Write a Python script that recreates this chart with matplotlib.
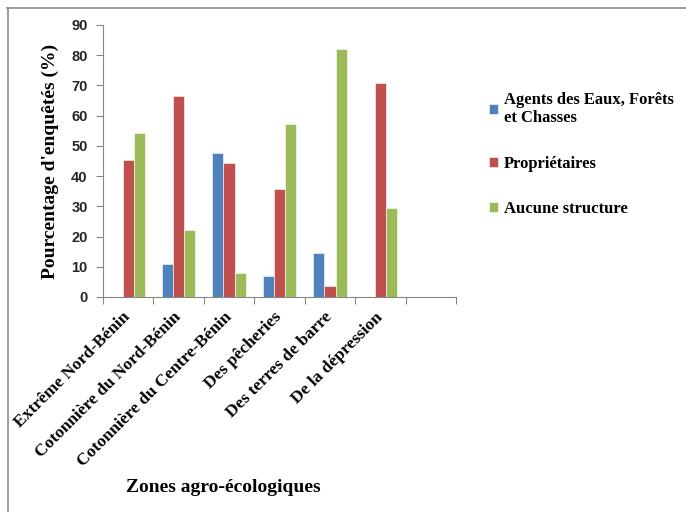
import numpy as np
import matplotlib
matplotlib.use("Agg")
import matplotlib.pyplot as plt
from matplotlib.lines import Line2D

# données
zones = ["Extrême Nord-Bénin", "Cotonnière du Nord-Bénin", "Cotonnière du Centre-Bénin",
         "Des pêcheries", "Des terres de barre", "De la dépression"]
agents = [0, 11.0, 47.8, 6.9, 14.4, 0]
proprietaires = [45.3, 66.6, 44.2, 35.6, 3.6, 70.7]
aucune = [54.3, 22.1, 7.8, 57.2, 82.0, 29.4]
series_labels = ["Agents des Eaux, Forêts\net Chasses", "Propriétaires", "Aucune structure"]
colors = ["#4F81BD", "#C0504D", "#9BBB59"]

fig = plt.figure(figsize=(6.86, 5.12), dpi=100)
ax = fig.add_axes([103 / 686, 1 - 297 / 512, (456 - 103) / 686, (297 - 25) / 512])

x = np.arange(len(zones)) + 0.5
w = 0.222
for i, (vals, lab, c) in enumerate(zip([agents, proprietaires, aucune], series_labels, colors)):
    ax.bar(x + (i - 1) * w, vals, width=w, color=c, label=lab, edgecolor="white", linewidth=0.4)

ax.set_xlim(0, 7)
ax.set_ylim(0, 90)
ax.set_yticks(range(0, 91, 10))
ax.set_xticks(range(0, 8))
ax.set_xticklabels([])
ax.set_xticks(x, minor=True)
ax.set_xticklabels(zones, minor=True, rotation=45, ha="right", va="center",
                   rotation_mode="anchor", family="Liberation Serif", weight="bold", fontsize=12.5)
ax.tick_params(axis="x", which="minor", length=0, pad=13)
ax.tick_params(axis="x", which="major", length=5, color="#868686")
ax.tick_params(axis="y", length=5, color="#868686", pad=6)
for lab in ax.get_yticklabels():
    lab.set_family("Liberation Sans")
    lab.set_weight("bold")
    lab.set_fontsize(10.5)
    lab.set_color("#262626")

for s in ["top", "right"]:
    ax.spines[s].set_visible(False)
for s in ["left", "bottom"]:
    ax.spines[s].set_color("#868686")

ax.set_ylabel("Pourcentage d'enquêtés (%)", family="Liberation Serif", weight="bold",
              fontsize=14, labelpad=9)
fig.text(223 / 686, 1 - 488 / 512, "Zones agro-écologiques", family="Liberation Serif",
         weight="bold", fontsize=14, ha="center", va="center")

leg = ax.legend(loc="upper left", bbox_to_anchor=(474 / 686, 1 - 77 / 512),
                bbox_transform=fig.transFigure, frameon=False, handlelength=0.55,
                handleheight=0.55, handletextpad=0.35, labelspacing=1.75,
                prop={"family": "Liberation Serif", "weight": "bold", "size": 12})

# cadre gris en haut et à gauche
fig.add_artist(Line2D([7 / 686, 1], [1 - 7.5 / 512, 1 - 7.5 / 512], color="#8c8c8c", lw=1.2))
fig.add_artist(Line2D([8 / 686, 8 / 686], [0, 1 - 7.5 / 512], color="#8c8c8c", lw=1.2))

fig.savefig("out.png", dpi=100)
